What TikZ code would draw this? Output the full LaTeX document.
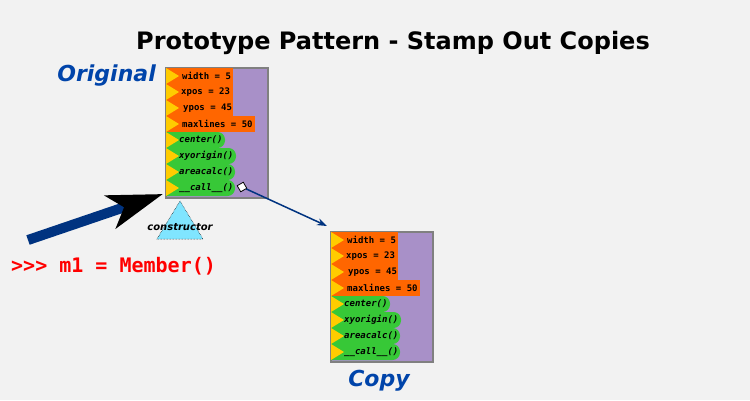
\documentclass[tikz,border=0pt]{standalone}
\usepackage{fontspec}
\setmainfont{DejaVu Sans}
\setmonofont{DejaVu Sans Mono}
\usetikzlibrary{arrows.meta}
\definecolor{bgc}{HTML}{F2F2F2}
\definecolor{purplec}{HTML}{A890C8}
\definecolor{orangec}{HTML}{FF6600}
\definecolor{greenc}{HTML}{37C837}
\definecolor{yellowc}{HTML}{FFCC00}
\definecolor{bluetxt}{HTML}{0044AA}
\definecolor{darkblue}{HTML}{003380}
\definecolor{cyanc}{HTML}{80E5FF}
\definecolor{grayc}{HTML}{808080}
\tikzset{
  boxbg/.style={draw=grayc, line width=1.5pt, fill=purplec, minimum width=102pt, minimum height=130pt, inner sep=0pt},
  rowtext/.style={font=\ttfamily\bfseries\fontsize{9}{10}\selectfont, inner sep=0pt, anchor=west},
  methtext/.style={font=\ttfamily\bfseries\itshape\fontsize{9}{10}\selectfont, inner sep=0pt, anchor=west},
  tri/.style={fill=yellowc},
  bigtext/.style={font=\bfseries\itshape\fontsize{22}{26}\selectfont, text=bluetxt, inner sep=0pt},
  handle/.style={draw=black, fill=white, line width=0.8pt, minimum size=7pt, inner sep=0pt, rotate=30},
}
\newcommand\protobox[3]{%
\begin{scope}[shift={(#2,#3)}]
  \node[boxbg, anchor=north west] (#1box) at (0,0) {};
  % orange rows
  \fill[orangec] (1,1) rectangle (68,17);
  \fill[orangec] (1,17) rectangle (68,33);
  \fill[orangec] (1,33) rectangle (68,49);
  \fill[orangec] (1,49) rectangle (90,65);
  % green rows
  \fill[greenc] (1,65) [rounded corners=7.5pt] -- (60,65) -- (60,81) [sharp corners] -- (1,81) -- cycle;
  \fill[greenc] (1,81) [rounded corners=7.5pt] -- (71,81) -- (71,97) [sharp corners] -- (1,97) -- cycle;
  \fill[greenc] (1,97) [rounded corners=7.5pt] -- (70,97) -- (70,113) [sharp corners] -- (1,113) -- cycle;
  \fill[greenc] (1,113) [rounded corners=7.5pt] -- (70,113) -- (70,129) [sharp corners] -- (1,129) -- cycle;
  % yellow triangles
  \foreach \k in {0,...,7}{
    \fill[tri] (1,{1+16*\k}) -- (14,{9+16*\k}) -- (1,{17+16*\k}) -- cycle;
  }
  \node[rowtext] (#1t1) at (17,9) {width = 5};
  \node[rowtext] (#1t2) at (16,25) {xpos = 23};
  \node[rowtext] (#1t3) at (18,41) {ypos = 45};
  \node[rowtext] (#1t4) at (17,57) {maxlines = 50};
  \node[methtext] (#1t5) at (14,73) {center()};
  \node[methtext] (#1t6) at (14,89) {xyorigin()};
  \node[methtext] (#1t7) at (14,105) {areacalc()};
  \node[methtext] (#1t8) at (14,121) {\_\_call\_\_()};
\end{scope}}
\begin{document}
\begin{tikzpicture}[x=1pt,y=-1pt]
  \fill[bgc] (0,0) rectangle (750,400);
  \useasboundingbox (0,0) rectangle (750,400);
  \node[font=\bfseries\fontsize{24}{28}\selectfont, inner sep=0pt] (title) at (393,43) {Prototype Pattern - Stamp Out Copies};
  \protobox{o}{165}{67}
  \protobox{c}{330}{231}
  \node[bigtext, anchor=east] (origlabel) at (156,76) {Original};
  \node[bigtext] (copylabel) at (379,381) {Copy};
  % constructor triangle
  \draw[fill=cyanc, draw=black, densely dotted, line width=0.5pt] (180,201) -- (203,239) -- (157,239) -- cycle;
  \node[font=\bfseries\itshape\fontsize{10}{12}\selectfont, inner sep=0pt] (ctor) at (180,227) {constructor};
  % handle and connector
  \node[handle] (hnd) at (242,187) {};
  \coordinate (ctarget) at ([shift={(-3,-5)}]cbox.north west);
  \draw[darkblue, line width=1.5pt, -{Stealth[length=10pt,width=7pt]}] (hnd) -- (ctarget);
  % big arrow
  \coordinate (astart) at (28,240);
  \coordinate (atip) at (163,194);
  \draw[darkblue, line width=10pt, -{Stealth[length=55pt,width=34pt,inset=14pt,color=black]}] (astart) -- (atip);
  \node[font=\ttfamily\bfseries\fontsize{20}{24}\selectfont, text=red, inner sep=0pt, anchor=west] (cmd) at (11,266) {>>> m1 = Member()};
\end{tikzpicture}
\end{document}
